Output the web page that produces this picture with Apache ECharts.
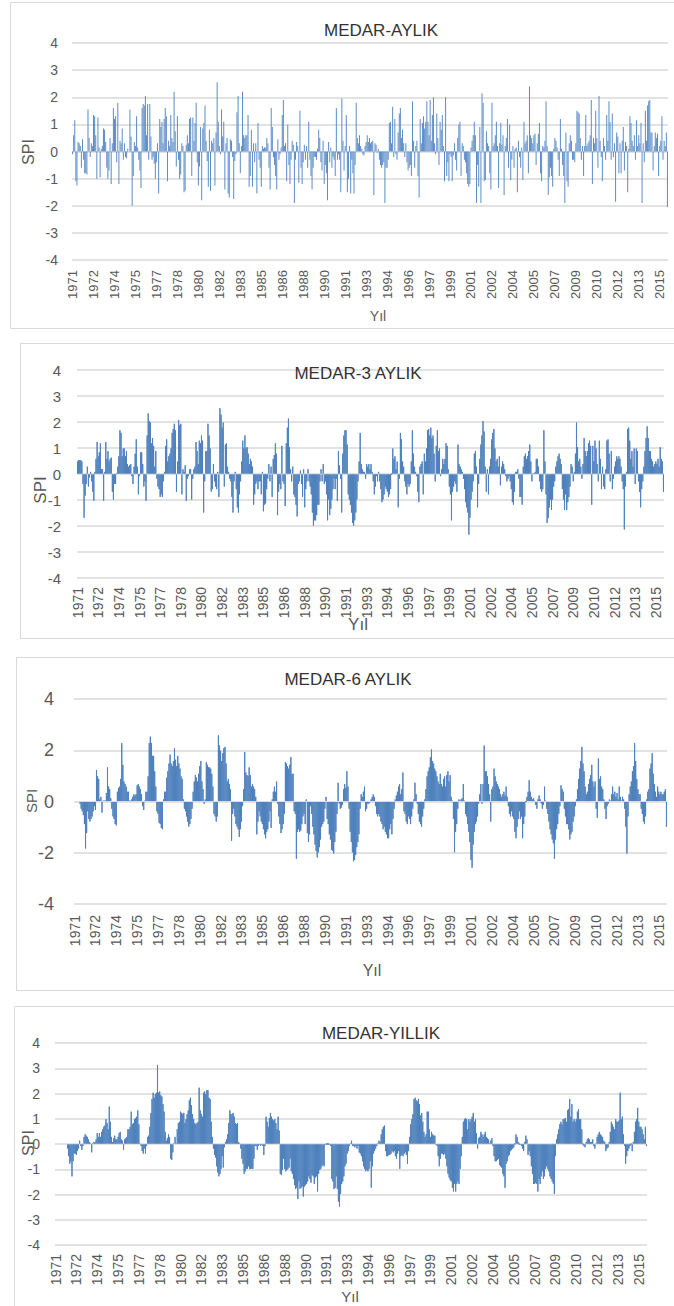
<!DOCTYPE html>
<html>
<head>
<meta charset="utf-8">
<script src="https://cdn.jsdelivr.net/npm/echarts@6/dist/echarts.min.js"></script>
<style>
  html, body { margin: 0; padding: 0; background: #fff; }
  #chart { width: 674px; height: 1306px; }
</style>
</head>
<body>
<div id="chart"></div>
<script>
// yillar, her yil 12 ay
const firstYear = 1971;
const lastYear = 2015;

// MEDAR aylik SPI (1 aylik), 1971-2015, satir basina bir yil
const aylik = [
  -0.1, 0.6, 1.15, -1.1, -1.25, 0.35, 0.3, 0.2, -0.6, 0.45, -0.3, -0.8,
  -0.8, -0.85, 1.55, 0.5, -0.2, 0.3, 0.2, 1.35, 1.3, 0.6, -1.0, 1.25,
  0.15, -0.95, 0.1, 0.2, 0.85, 0.8, 0.35, -0.6, -1.0, -0.7, 0.5, -1.2,
  0.3, 1.6, 1.2, 1.3, -0.4, 1.8, -1.2, 0.4, 0.3, 0.85, -0.3, 0.3,
  -0.2, -0.25, 0.1, 0.0, 1.55, 0.55, -2.0, -0.9, 0.35, 0.2, 1.3, 0.15,
  -0.3, -0.7, -1.35, 1.6, 1.75, 1.7, 2.05, 0.6, 1.75, -0.3, 1.75, 0.55,
  -0.3, -0.2, -0.45, -1.0, -0.4, 0.3, -1.55, 1.2, 0.9, 1.1, 0.3, 1.2,
  1.6, 1.3, -1.1, 0.4, 0.2, 1.35, 0.5, 0.35, 2.2, 0.75, -0.55, 1.3,
  -0.3, -1.0, -0.85, 0.3, 0.2, -1.5, -1.45, 0.25, 0.6, 0.3, 1.2, 1.25,
  -0.9, 1.25, 0.4, 1.05, 1.8, -0.4, -1.25, -0.55, 0.9, -1.8, 0.85, 1.05,
  1.7, 0.4, -0.35, -1.3, 0.8, -1.45, 0.4, 0.3, 0.5, -1.25, 0.7, 2.55,
  1.1, 0.2, -0.1, 1.55, 0.55, 1.1, -1.4, 0.3, 0.5, -1.55, -1.7, 0.45,
  0.4, -0.2, -1.75, -0.35, -0.1, 1.45, 2.05, 0.3, -0.8, 0.2, 2.2, 0.6,
  0.5, 0.6, 0.6, 1.35, -1.3, -0.9, 0.8, -1.3, 0.3, -0.4, 0.3, -1.55,
  1.05, -0.3, -0.6, -1.3, 0.2, 0.1, 0.15, 0.15, 0.5, 0.3, -0.6, -1.4,
  1.6, 0.9, -0.2, -0.5, -0.9, -1.4, 0.45, -0.3, -0.1, 0.15, 1.35, 1.9,
  0.2, 0.3, -1.1, 1.0, -0.5, -1.2, -0.3, 0.4, 0.25, -1.9, -0.3, 0.35,
  0.2, -1.15, 1.5, -0.6, -1.2, -0.4, 0.25, -0.3, 0.2, -0.6, 1.1, -0.3,
  -0.9, -1.4, -0.6, -0.2, -0.2, -0.3, 0.1, 0.8, 0.5, -0.4, -0.7, 0.4,
  -1.2, -0.5, -0.8, -1.8, 0.35, -0.4, 0.15, -0.6, -0.2, -0.3, -0.9, 1.6,
  -0.3, -0.1, -0.3, -1.5, 1.95, 0.4, -0.7, 0.2, 1.35, -1.5, -1.0, 0.2,
  -1.55, -0.3, -0.8, -1.55, -0.5, 1.8, 0.5, 0.3, 0.6, 0.2, 0.1, -0.1,
  -0.15, 0.2, 0.35, 0.6, 0.35, 0.5, 0.3, 0.35, 0.4, -1.6, 0.3, 0.25,
  -0.05, 0.1, -0.3, -0.5, -0.6, -0.5, -0.4, -1.9, -0.6, -0.6, -0.3, 1.05,
  1.1, 0.3, 1.65, -0.2, 1.2, -0.1, -0.3, 0.7, 1.4, 1.6, 0.5, 0.8,
  0.3, -0.2, 0.3, -0.4, -0.7, -0.6, -0.5, -0.9, 1.85, 0.4, -0.6, 0.2,
  0.4, -0.9, -1.7, 1.2, 0.3, 1.05, 1.3, 0.85, 1.1, 1.85, 1.1, 0.6,
  1.9, 0.4, 1.35, 2.0, 0.3, -0.1, 1.4, 0.5, -0.5, 1.1, 0.8, 1.35,
  0.2, -1.1, 2.0, -0.9, -0.4, -1.1, -0.1, -0.2, -1.1, -0.15, 0.3, -0.3,
  -0.7, 0.5, 1.0, 1.1, -0.9, 0.3, 0.2, -0.3, -0.4, -0.8, -1.2, -1.3,
  -1.2, 0.15, 0.4, 0.6, 1.1, 0.6, -1.9, -0.5, -1.3, 0.9, -1.9, 2.15,
  1.8, -1.1, -1.05, 0.75, 0.3, 0.2, -0.8, -1.4, 1.8, 0.2, 0.3, 0.6,
  1.1, 0.2, -1.35, 0.3, 1.05, 0.25, 0.6, -1.6, 0.2, 0.5, 1.2, -0.6,
  1.0, -1.05, -0.3, 0.2, -0.6, 0.1, 0.15, -1.5, 0.4, -0.2, -0.6, 0.15,
  -1.05, 1.1, 0.3, 0.4, 0.6, -0.8, 2.4, 0.6, 0.5, 0.3, 0.6, 0.65,
  -0.5, 0.3, 0.65, 1.05, -0.8, -1.1, 0.2, 0.15, 0.4, 1.85, 0.2, -1.6,
  -0.95, -0.6, -0.9, -1.3, 0.1, 0.5, 0.4, 0.15, -0.3, -0.9, 1.2, 0.1,
  -0.5, -0.9, -1.9, 0.7, -1.1, -1.3, 0.3, 0.6, 0.4, -0.3, -0.3, -0.4,
  0.3, 1.5, 1.45, 1.4, 0.5, -0.3, 0.2, -0.9, 0.2, 1.35, 0.2, 0.3,
  0.4, 0.6, 1.9, -1.2, 0.5, 0.3, 1.5, 0.5, -0.6, 2.05, 0.4, -0.2,
  -1.1, 0.5, 0.2, -0.3, 1.35, 0.4, 1.85, 1.1, -0.3, 1.4, -0.2, 0.3,
  -1.85, 0.7, 0.55, -0.8, 0.3, -0.8, 0.4, 0.9, -0.7, 0.35, 0.2, -1.5,
  0.1, 1.3, 1.05, 0.4, 0.2, 0.6, -0.3, 1.15, 0.2, 0.6, 0.3, 1.05,
  -1.9, 0.3, -0.4, 1.5, 0.4, 1.7, 1.85, 1.9, 0.7, 0.7, -0.7, 0.2,
  0.7, 0.5, 0.65, -0.9, 0.2, 0.4, 1.3, -0.3, 0.4, 0.2, 0.7, -2.05
];

// MEDAR 3 aylik SPI
const aylik3 = [
  0.5, 0.55, 0.55, 0.55, 0.5, -0.4, -1.7, -0.85, -0.4, 0.3, -0.5, -0.15,
  0.1, -0.3, -0.7, -1.05, 0.1, 0.6, 1.25, 0.7, 0.85, 1.2, 0.2, 0.2,
  -1.05, 0.1, 1.25, 0.6, 0.9, 0.5, 0.6, 0.65, -0.7, -1.0, -0.4, -0.4,
  0.05, 0.3, 0.7, 1.7, 1.6, 0.7, 1.0, 1.0, 0.7, 0.9, 0.4, 0.3,
  0.35, 0.4, -0.1, -0.4, 0.3, 0.8, 1.35, 0.3, -0.8, -0.1, 0.85, 0.85,
  0.4, -0.5, -0.3, -1.05, 1.5, 2.35, 2.05, 2.0, 1.2, 1.4, 1.1, 0.3,
  0.9, -0.2, -0.5, -0.6, -0.9, -0.8, -0.9, -0.3, 0.1, 1.1, 1.35, 0.5,
  0.7, 0.8, 1.0, 1.6, 1.75, 1.95, 1.7, -0.7, 0.5, 2.1, 1.9, 1.95,
  -0.8, 0.2, 0.1, 0.35, -1.05, -0.2, -0.1, 0.2, 0.2, -1.0, -0.2, 0.2,
  0.3, 1.25, 0.9, 0.4, 1.3, 1.2, 1.5, 1.3, -1.5, -0.3, 0.9, 0.9,
  1.95, 1.5, 1.0, -0.7, -0.6, 0.4, -0.3, -0.5, -0.6, 0.1, -0.9, 2.55,
  2.3, 1.8, 2.0, -0.5, 1.15, 1.2, 0.3, 0.1, -0.2, -0.3, -0.9, -1.5,
  -0.3, 0.1, -0.6, -1.3, -1.5, -0.8, -0.3, 0.5, 1.3, 1.0, 1.5, 1.0,
  1.05, 0.8, 0.4, 0.6, 0.5, 0.3, -1.2, -0.8, -0.4, -0.3, -0.6, -0.3,
  -0.3, -0.8, 0.1, -1.45, -1.2, -1.15, -0.6, -0.2, 0.4, -0.3, 0.3, -0.9,
  0.6, 0.75, 1.2, 0.8, -1.6, -0.7, -0.4, -0.6, 1.1, -0.3, -0.4, -1.25,
  1.2, 1.8, 2.15, 1.05, 0.2, -0.3, 0.3, -0.8, -0.9, -1.2, -1.65, -0.4,
  -0.3, 0.15, -0.4, -0.9, 0.2, -1.3, -0.6, -0.3, 0.2, -0.3, -0.5, -0.8,
  -1.5, -2.0, -1.8, -1.8, -1.6, -1.2, -1.2, -0.3, 0.2, -0.3, 0.4, -0.4,
  -0.3, -0.8, -1.8, -1.0, -1.6, -1.35, -1.0, -0.6, -0.2, -0.6, -0.2, -1.05,
  0.9, 0.35, -0.2, -1.5, 0.8, 1.5, 1.7, 1.7, 1.15, -0.8, -1.0, -1.2,
  -1.5, -1.9, -2.0, -1.8, -1.5, -1.0, -0.3, 0.5, 1.6, 0.4, 0.2, 0.1,
  0.1, -0.2, 0.4, 0.3, 0.4, 0.2, 0.4, 0.1, -0.3, -0.8, -0.5, -0.1,
  -0.3, 0.1, -0.3, -0.6, -1.1, -1.0, -0.8, -0.5, -0.6, -0.7, -0.9, -0.8,
  -0.6, 0.0, 1.0, 0.6, 0.7, 0.2, 0.5, -1.3, -0.2, 1.6, 1.35, 0.5,
  0.3, -0.3, -0.5, -0.8, -0.4, -0.5, -0.4, 0.5, 1.7, 0.8, 0.3, 0.1,
  -0.1, -0.7, -1.1, 0.3, 0.4, 0.5, -0.8, 0.8, 0.5, 1.0, 1.7, 1.75,
  1.5, 1.8, 1.4, 1.5, 0.8, -0.3, 1.1, 1.7, 0.9, 1.0, -0.1, 0.2,
  0.6, 0.4, 0.6, 1.2, 1.1, 0.2, -0.5, -0.8, -1.8, -0.7, -0.5, -0.3,
  -0.4, -0.7, 1.15, 0.4, 0.3, 0.2, 0.1, -0.2, -0.6, -1.1, -1.3, -1.5,
  -2.35, -1.7, -1.0, -0.7, -0.3, 0.8, 0.9, 0.3, -1.3, -0.4, 0.6, 1.15,
  1.5, 2.05, 1.65, 0.3, -0.7, 0.2, -0.8, 0.3, 0.6, 1.35, 1.6, 1.75,
  1.0, 0.5, 0.6, 0.3, 0.7, -0.45, 0.3, 0.5, 0.4, 0.2, -0.1, -0.3,
  -0.2, -0.1, -0.3, -0.6, -1.1, -1.2, -0.7, 0.1, 0.1, 0.2, -0.2, -0.9,
  -0.9, -1.2, 0.3, 0.7, 0.8, 0.6, 0.7, 0.9, 1.15, 0.5, -0.3, 0.05,
  0.05, 0.1, 0.6, 0.6, 0.3, -0.3, -0.6, -0.7, -0.6, 1.7, 0.5, -0.8,
  -1.9, -1.7, -1.3, -1.0, -1.4, -1.0, -0.5, -0.3, 0.3, 0.5, 0.7, 0.8,
  0.6, 0.4, -0.6, -1.0, -1.4, -0.8, -1.4, -1.1, -0.9, -0.5, 0.4, 0.3,
  -0.3, 0.1, 0.8, 2.0, 1.05, 0.5, 0.6, 0.3, -0.2, 0.4, 1.4, 0.9,
  0.7, 0.9, 1.2, 1.3, 1.1, -1.2, 1.1, 0.5, 1.3, 1.0, 0.4, -0.3,
  1.3, 0.6, -0.6, 0.3, -0.5, -0.6, 0.2, 1.3, 1.35, 0.8, -0.3, 0.9,
  -0.6, -0.2, 0.3, 0.5, 0.7, 0.6, 0.7, 0.6, 0.3, -0.3, -0.6, -2.15,
  -0.5, 0.1, 1.75, 1.8, 1.3, 0.6, 0.9, 0.3, 1.0, -0.4, 1.0, 0.9,
  -0.3, -0.7, -1.3, -0.6, -0.3, 0.3, 0.9, 1.4, 1.85, 1.4, 0.9, 0.9,
  0.6, 0.5, 0.3, 0.4, 0.5, 0.4, 0.6, 0.3, 1.05, 0.6, 0.5, -0.7
];

// MEDAR 6 aylik SPI
const aylik6 = [
  null, null, null, null, null, -0.1, -0.3, -0.4, -0.55, -0.9, -1.85, -1.25,
  -0.4, -0.7, -0.8, -0.7, -0.6, -0.4, -0.2, -0.35, 1.25, 1.0, 0.9, 0.1,
  0.2, -0.45, 0.05, 0.05, 0.05, 0.35, 1.35, 0.6, 0.5, 0.15, -0.3, -0.6,
  -0.7, -0.9, -0.95, 0.4, 0.55, 0.6, 0.9, 2.3, 1.45, 0.8, 0.7, 0.6,
  0.4, 0.4, 0.05, 0.05, 0.1, 0.2, 0.3, 0.25, 0.3, 0.65, 0.7, 0.6,
  0.5, 0.3, -0.2, -0.35, 0.05, 0.4, 0.4, 1.0, 2.3, 2.55, 2.3, 1.8,
  1.8, 1.2, 0.6, -0.4, -0.5, -0.85, -0.9, -1.05, -1.1, 0.1, 0.4, 0.4,
  0.95, 1.2, 1.5, 1.85, 1.5, 1.4, 1.6, 2.1, 1.65, 1.4, 1.8, 1.5,
  1.3, 1.0, 0.9, 0.1, -0.3, -0.4, -0.6, -0.8, -1.0, -0.9, -0.7, -0.3,
  0.4, 0.8, 1.05, 0.95, 0.8, 1.1, 1.4, 1.6, 0.8, 0.5, -0.1, 0.1,
  1.55, 1.45, 1.35, 1.35, 1.3, 1.1, 0.6, -0.5, -0.6, -0.8, -0.6, 2.6,
  2.2, 2.0, 1.6, 1.9, 2.1, 2.15, 1.5, 0.8, 0.9, 0.7, 0.5, -1.55,
  -0.5, -0.3, -0.6, -0.9, -1.0, -1.1, -1.4, -1.1, -0.8, -0.2, 0.5, 1.95,
  1.15, 1.05, 1.0, 1.35, 1.05, 0.6, 0.7, 0.6, 0.5, 0.2, -1.3, -0.8,
  -0.4, -0.6, -0.8, -0.9, -1.1, -1.3, -1.45, -1.2, -1.1, -0.8, -0.4, -1.05,
  0.1, 0.4, 0.6, 0.4, 0.8, -0.1, -0.6, -0.9, -1.25, -1.1, -0.9, -0.5,
  1.55, 1.5, 1.4, 1.3, 1.45, 1.75, 1.1, 1.1, -0.4, -0.5, -2.25, -1.2,
  -1.1, -1.2, -1.15, -0.9, -0.6, -0.5, -0.9, 0.1, -1.25, -1.6, -1.3, -0.2,
  -0.5, -1.0, -1.3, -1.7, -1.95, -2.2, -2.0, -1.8, -1.5, -1.0, -0.9, -0.8,
  -0.3, 0.2, -0.7, -0.9, -1.3, -1.5, -1.9, -1.95, -2.05, -1.6, -1.2, -0.5,
  0.75, -0.1, -0.3, -0.25, -0.15, 0.5, 0.7, 0.55, 1.2, 0.6, -0.3, -1.2,
  -1.6, -2.0, -2.35, -2.3, -2.1, -1.8, -1.6, -1.3, -0.3, 0.3, 0.2, 0.4,
  0.6, -0.4, -0.3, -0.1, -0.1, -0.05, 0.1, 0.2, 0.3, 0.2, -0.2, -0.5,
  -0.6, -0.5, -0.6, -0.8, -0.9, -1.1, -1.0, -1.2, -1.3, -1.45, -1.45, -1.1,
  -0.9, -1.3, -0.7, -0.3, 0.1, 0.25, 0.4, 0.6, 0.7, 0.3, 0.5, 1.15,
  -0.4, -0.5, -0.8, -0.9, -0.6, -0.7, -0.9, -0.6, -0.3, 0.1, 0.75, 0.3,
  -0.1, -0.5, -0.8, -0.9, -1.0, -0.6, -0.3, 0.1, 0.5, 1.0, 1.2, 1.35,
  1.75, 2.05, 1.6, 1.5, 1.3, 1.2, 1.0, 0.8, 0.7, 1.1, 0.7, 0.6,
  0.9, 1.0, 0.6, 1.05, 1.2, 0.8, 1.05, 0.2, 0.05, -0.7, -2.0, -1.2,
  -0.9, -0.3, 0.1, 0.05, 0.1, 0.15, 0.7, 0.05, -0.5, -0.6, -0.9, -1.2,
  -1.6, -2.3, -2.6, -1.7, -1.2, -0.9, -0.8, -0.6, -0.1, 0.3, 0.7, -0.1,
  0.7, 2.2, 1.2, 1.2, 1.0, 0.7, 0.3, -0.8, 0.5, 0.6, 1.3, 1.0,
  0.8, 0.7, 0.6, 0.5, 0.3, 0.2, 0.3, 0.4, 0.25, 0.6, 0.2, -0.2,
  -0.5, -0.6, -0.4, -0.6, -0.7, -1.2, -1.45, -1.0, -0.7, -0.4, -0.7, -0.6,
  -1.45, -0.9, -0.6, 0.0, 0.2, 0.4, 0.85, 0.4, 0.2, 0.1, 0.15, 0.05,
  -0.15, -0.3, 0.1, 0.25, 0.1, -0.1, -0.3, -0.15, 0.6, 0.05, -0.3, -0.5,
  -0.8, -1.1, -1.3, -1.5, -1.65, -2.25, -1.5, -1.1, -0.9, -0.5, -0.2, 0.65,
  0.5, 0.4, -0.3, -0.6, -0.9, -0.9, -1.1, -1.5, -1.3, -1.2, -0.8, -0.6,
  -0.2, 0.1, 0.5, 0.9, 1.3, 1.6, 2.15, 1.5, 1.2, 0.6, 0.3, 0.4,
  0.7, 0.9, 1.05, 1.45, 0.8, 0.6, 0.8, -0.3, -0.65, 1.7, 0.9, 1.0,
  0.6, 0.5, 0.1, -0.3, -0.7, -0.2, -0.1, 0.1, 0.05, 0.3, 0.6, 0.3,
  0.4, 0.2, 0.35, 0.1, 0.6, 0.2, 0.05, 0.2, 0.1, -0.3, -1.0, -2.05,
  -0.6, 0.3, 0.6, 0.8, 1.2, 1.4, 2.3, 1.6, 0.9, 0.5, 0.3, 0.3,
  -0.3, -0.5, -0.8, -0.9, -0.6, 0.1, 0.4, 0.5, 1.3, 1.5, 1.9, 1.1,
  0.7, 0.4, 0.2, 0.6, 0.4, 0.3, 0.4, 0.3, 0.3, 0.4, 0.5, -1.0
];

// MEDAR yillik (12 aylik) SPI
const yillik = [
  null, null, null, null, null, null, null, null, null, null, null, -0.2,
  -0.5, -0.8, -0.7, -1.3, -0.7, -0.4, -0.4, -0.45, -0.3, -0.2, 0.15, -0.1,
  -0.25, -0.1, 0.3, 0.4, 0.35, 0.3, 0.2, 0.1, 0.05, -0.35, 0.05, 0.1,
  0.1, 0.2, 0.45, 0.3, 0.45, 0.3, 0.5, 0.6, 0.7, 0.75, 1.0, 0.85,
  0.6, 1.5, 0.9, 0.3, 0.1, 0.25, 0.35, 0.2, 0.2, 0.3, 0.45, 0.5,
  0.2, 0.15, -0.25, 0.2, 0.25, 0.3, 0.6, 0.6, 0.7, 1.3, 0.8, 0.85,
  1.0, 1.05, 1.1, 1.35, 0.8, 0.05, -0.1, -0.3, -0.4, -0.2, -0.4, -0.1,
  0.3, 0.35, 0.7, 1.25, 1.8, 2.05, 1.85, 2.0, 2.05, 3.15, 2.05, 2.1,
  1.95, 1.9, 1.6, 1.3, 0.5, 0.15, 0.25, 0.4, 0.3, -0.6, -0.65, -0.35,
  0.05, 0.3, 0.05, 0.6, 0.85, 0.9, 1.3, 1.25, 1.2, 1.25, 0.85, 1.0,
  1.2, 1.35, 1.75, 1.85, 1.55, 1.2, 1.0, 0.85, 0.8, 0.85, 0.9, 2.25,
  1.35, 1.2, 1.1, 2.05, 2.1, 2.0, 2.15, 2.15, 1.85, 1.8, 0.9, 0.3,
  -0.2, -0.45, -0.55, -0.9, -1.15, -1.3, -1.2, -1.0, -0.5, -0.95, -0.15, 0.1,
  0.2, 0.4, 0.85, 1.35, 1.2, 1.2, 1.25, 1.1, 0.85, 0.8, 0.85, 0.1,
  0.05, -0.2, -0.6, -0.8, -1.2, -1.1, -1.0, -1.0, -0.9, -1.0, -1.0, -1.0,
  -1.0, -0.6, -0.1, -0.1, -0.25, -0.1, -0.05, -0.1, -0.05, -0.1, -0.45, -0.1,
  1.1, 0.9, 0.7, 1.05, 1.25, 1.1, 1.0, 0.95, 1.0, 0.85, 0.6, 1.1,
  0.55, -1.2, -1.25, -1.05, -0.6, -1.0, -1.1, -1.05, -1.0, -0.95, -0.6, -1.1,
  -1.2, -1.4, -1.65, -1.8, -1.75, -2.2, -1.5, -1.8, -1.75, -1.7, -2.1, -1.7,
  -1.65, -1.6, -1.5, -1.3, -1.4, -1.55, -1.25, -1.3, -1.6, -1.35, -1.3, -1.9,
  -1.2, -1.05, -1.0, -0.9, -0.85, -0.9, -0.05, 0.0, 0.0, 0.0, -0.05, -0.1,
  -1.4, -1.5, -1.8, -1.75, -1.3, -1.8, -2.3, -2.5, -2.0, -1.6, -1.5, -1.3,
  -0.9, -0.8, -0.4, -0.3, -0.1, 0.05, 0.15, -0.1, -0.1, -0.15, -0.1, -0.2,
  -0.1, -0.35, -0.4, -0.5, -0.7, -0.9, -1.0, -1.1, -1.05, -1.1, -1.0, -0.7,
  -1.75, -0.9, -0.4, -0.3, -0.2, -0.1, 0.05, 0.15, 0.1, 0.4, 0.6, 0.7,
  0.75, -0.3, -0.5, -0.5, -0.45, -0.45, -0.4, -0.3, -0.35, -0.3, -0.5, -0.6,
  -0.4, -0.3, -1.0, -0.5, -0.45, -0.5, -0.4, -0.35, -0.45, -0.8, -0.3, 0.3,
  0.8, 1.0, 1.2, 1.8, 1.85, 1.75, 1.7, 1.8, 1.6, 1.15, 1.25, 0.9,
  0.5, 0.3, 0.4, 1.3, 1.3, 0.6, 0.3, 0.5, 0.4, 0.35, 0.35, -0.05,
  -0.1, -0.5, -0.9, -0.6, -0.4, -0.4, -0.45, -0.4, -0.6, -0.9, -1.2, -1.35,
  -1.45, -1.5, -1.75, -1.9, -1.6, -1.9, -1.6, -1.5, -1.6, -1.0, -0.5, 0.3,
  0.9, 1.0, 1.05, 1.0, 0.6, 1.0, 0.9, 1.0, 1.1, 1.25, 0.9, 1.0,
  0.45, -0.2, 0.25, 0.3, 0.5, 0.4, 0.3, 0.4, 0.5, 0.3, 0.25, 0.2,
  0.05, 0.15, 0.25, -0.1, -0.5, -0.7, -0.7, -0.65, -0.6, -0.85, -0.9, -0.95,
  -1.2, -1.3, -1.75, -0.8, -0.7, -0.5, -0.45, -0.3, -0.25, -0.2, -0.15, 0.0,
  0.4, 0.3, 0.1, 0.0, -0.05, -0.1, -0.2, -0.3, 0.1, 0.35, 0.2, -0.45,
  -0.3, -0.5, -0.9, -1.2, -1.6, -1.6, -1.55, -1.6, -1.9, -1.4, -1.6, -1.3,
  -1.1, -1.4, -1.3, -1.0, -0.9, -1.0, -1.1, -1.3, -1.4, -1.5, -1.6, -2.0,
  -0.5, 0.2, 0.4, 0.6, 0.8, 0.9, 0.8, 1.0, 1.0, 1.05, 0.9, 1.35,
  1.4, 1.8, 1.1, 1.6, 0.9, 1.0, 0.9, 1.0, 1.3, 1.4, 1.0, 1.0,
  0.6, 0.0, -0.1, -0.15, 0.1, 0.2, 0.25, 0.2, 0.1, 0.1, 0.2, -0.1,
  -0.2, 0.05, 0.3, 0.4, 0.5, 0.4, 0.35, 0.3, 0.15, 0.1, -0.3, -0.2,
  -0.15, 0.1, 0.5, 0.9, 0.8, 0.7, 0.6, 1.0, 0.9, 0.9, 0.95, 2.05,
  1.0, 1.1, 0.4, -0.1, -0.8, -0.5, -0.3, -0.2, -0.1, 0.0, -0.3, 0.1,
  0.5, 0.9, 1.0, 1.45, 0.9, 0.7, 0.7, 0.6, 0.4, 0.2, 0.7, -0.1
];

// kategori ekseni: her ay icin yil etiketi
const categories = [];
for (let y = firstYear; y <= lastYear; y++) {
  for (let m = 0; m < 12; m++) categories.push(String(y));
}

const font = '"Liberation Sans", Arial, sans-serif';
const blue = '#4f81bd';
const grey = '#595959';

// her panelin yerlesimi (piksel)
const panels = [
  { title: 'MEDAR-AYLIK', data: aylik, box: [10, 2, 326],
    grid: { left: 72, right: 6, top: 43, height: 217 }, yStep: 1, yFont: 14, yMargin: 14, xFont: 13, xMargin: 10,
    titleAt: [381, 30], spiAt: [28, 152], spiFont: 16, yilAt: [378, 316], yilFont: 14, solid: false },
  { title: 'MEDAR-3 AYLIK', data: aylik3, box: [20, 343, 295],
    grid: { left: 77, right: 10, top: 370, height: 208 }, yStep: 1, yFont: 15, yMargin: 16, xFont: 14, xMargin: 9,
    titleAt: [358, 373], spiAt: [40, 490], spiFont: 17, yilAt: [358, 624], yilFont: 17, solid: true },
  { title: 'MEDAR-6 AYLIK', data: aylik6, box: [16, 657, 333],
    grid: { left: 74, right: 7, top: 699, height: 205 }, yStep: 2, yFont: 18, yMargin: 20, xFont: 14, xMargin: 11,
    titleAt: [348, 679], spiAt: [31, 801], spiFont: 15, yilAt: [372, 970], yilFont: 16, solid: true },
  { title: 'MEDAR-YILLIK', data: yillik, box: [14, 1006, 320],
    grid: { left: 55, right: 27, top: 1043, height: 202 }, yStep: 1, yFont: 14, yMargin: 15, xFont: 14, xMargin: 9,
    titleAt: [381, 1033], spiAt: [28, 1143], spiFont: 16, yilAt: [350, 1296], yilFont: 15, solid: true }
];

const textEl = (x, y, text, size, color, rotate) => ({
  type: 'text', x: x, y: y, rotation: rotate ? Math.PI / 2 : 0, silent: true, z: 10,
  style: { text: text, font: size + 'px ' + font, fill: color,
    align: 'center', verticalAlign: 'middle', textAlign: 'center', textVerticalAlign: 'middle' }
});

const graphics = [];
panels.forEach(p => {
  graphics.push({ type: 'rect', silent: true, z: -1,
    shape: { x: p.box[0] + 0.5, y: p.box[1] + 0.5, width: 700, height: p.box[2] },
    style: { fill: 'none', stroke: '#d9d9d9', lineWidth: 1 } });
  graphics.push(textEl(p.titleAt[0], p.titleAt[1], p.title, 17, '#333333', false));
  graphics.push(textEl(p.spiAt[0], p.spiAt[1], 'SPI', p.spiFont, grey, true));
  graphics.push(textEl(p.yilAt[0], p.yilAt[1], 'Yıl', p.yilFont, grey, false));
});

const chart = echarts.init(document.getElementById('chart'), null, { renderer: 'svg' });
chart.setOption({
  animation: false,
  backgroundColor: '#fff',
  textStyle: { fontFamily: font },
  grid: panels.map(p => Object.assign({ outerBoundsMode: 'none', containLabel: false }, p.grid)),
  xAxis: panels.map((p, i) => ({
    type: 'category', gridIndex: i, data: categories,
    axisLine: { show: false, onZero: false }, axisTick: { show: false },
    axisLabel: { interval: 18, rotate: 90, color: grey, fontSize: p.xFont, margin: p.xMargin, fontFamily: font }
  })),
  yAxis: panels.map((p, i) => ({
    type: 'value', gridIndex: i, min: -4, max: 4, interval: p.yStep,
    axisLine: { show: false }, axisTick: { show: false },
    axisLabel: { color: grey, fontSize: p.yFont, margin: p.yMargin, fontFamily: font },
    splitLine: { lineStyle: { color: '#d9d9d9', width: 1.5 } }
  })),
  series: panels.map((p, i) => ({
    type: 'bar', xAxisIndex: i, yAxisIndex: i, data: p.data,
    barCategoryGap: p.solid ? '0%' : '25%',
    itemStyle: p.solid
      ? { color: blue, borderColor: blue, borderWidth: 1 }
      : { color: '#5b8cc8' }
  })),
  graphic: { elements: graphics }
});
</script>
</body>
</html>
